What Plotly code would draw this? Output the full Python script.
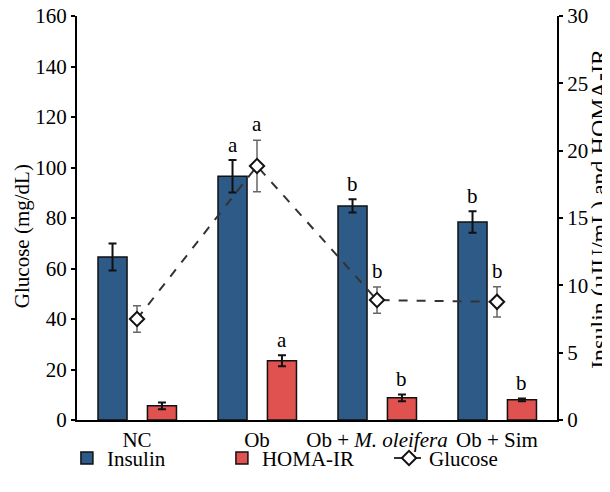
import plotly.graph_objects as go

categories = ["NC", "Ob", "Ob + <i>M. oleifera</i>", "Ob + Sim"]
insulin = [12.1, 18.1, 15.9, 14.7]
insulin_err = [1.0, 1.2, 0.5, 0.8]
homa = [1.05, 4.4, 1.65, 1.5]
homa_err = [0.25, 0.4, 0.25, 0.1]
glucose = [40.0, 100.6, 47.5, 46.8]
glucose_err = [5.2, 10.2, 5.2, 6.0]
insulin_sig = ["", "a", "b", "b"]
homa_sig = ["", "a", "b", "b"]
glucose_sig = ["", "a", "b", "b"]

FONT = "Liberation Serif, Times New Roman, serif"
FS = 21
BLUE = "#2E5A88"
RED = "#E0524F"
BW = 0.242
INS_OFF = -0.325
HOMA_OFF = 0.087

fig = go.Figure()
fig.add_trace(go.Bar(
    x=categories, y=insulin, name="Insulin", yaxis="y", legend="legend",
    width=BW, offset=INS_OFF,
    marker=dict(color=BLUE, line=dict(color="#111111", width=1.5)),
    error_y=dict(type="data", array=insulin_err, color="#111111", thickness=2, width=4),
))
fig.add_trace(go.Bar(
    x=categories, y=homa, name="HOMA-IR", yaxis="y", legend="legend",
    width=BW, offset=HOMA_OFF,
    marker=dict(color=RED, line=dict(color="#111111", width=1.5)),
    error_y=dict(type="data", array=homa_err, color="#111111", thickness=2, width=4),
))
fig.add_trace(go.Scatter(
    x=categories, y=glucose, name="Glucose", yaxis="y2", mode="lines+markers", legend="legend2",
    line=dict(color="#333333", width=2, dash="dash"),
    marker=dict(symbol="diamond", size=11, color="white", line=dict(color="#111111", width=2)),
    error_y=dict(type="data", array=glucose_err, color="#666666", thickness=1.5, width=4),
))

annotations = []
for i in range(len(categories)):
    if insulin_sig[i]:
        annotations.append(dict(x=i + INS_OFF + BW / 2, y=insulin[i] + insulin_err[i], yref="y", xref="x",
                                text=insulin_sig[i], showarrow=False, yanchor="middle", yshift=15))
    if homa_sig[i]:
        annotations.append(dict(x=i + HOMA_OFF + BW / 2, y=homa[i] + homa_err[i], yref="y", xref="x",
                                text=homa_sig[i], showarrow=False, yanchor="middle", yshift=15))
    if glucose_sig[i]:
        annotations.append(dict(x=i, y=glucose[i] + glucose_err[i], yref="y2", xref="x",
                                text=glucose_sig[i], showarrow=False, yanchor="middle", yshift=16))

annotations.append(dict(text="Glucose (mg/dL)", textangle=-90, xref="paper", yref="paper",
                        x=-0.1146, y=0.455, xanchor="center", yanchor="middle", showarrow=False))
annotations.append(dict(text="Insulin (µIU/mL) and HOMA-IR", textangle=-90, xref="paper", yref="paper",
                        x=1.087, y=0.522, xanchor="center", yanchor="middle", showarrow=False,
                        font=dict(size=24)))

axis_common = dict(showline=True, linecolor="black", linewidth=2, showgrid=False, zeroline=False,
                   automargin=False, ticklabeloverflow="allow")

# page body has an 8px default margin, so the figure is sized/offset to compensate
fig.update_layout(
    width=602, height=476,
    margin=dict(l=69, r=53, t=8, b=64, autoexpand=False),
    paper_bgcolor="white", plot_bgcolor="white",
    font=dict(family=FONT, size=FS, color="black"),
    showlegend=True,
    barmode="overlay",
    xaxis=dict(type="category", range=[-0.5, 3.5], ticks="", **axis_common),
    yaxis=dict(side="right", range=[0, 30], dtick=5, ticks="outside", ticklen=4, tickwidth=1.5,
               tickcolor="black", **axis_common),
    yaxis2=dict(side="left", overlaying="y", range=[0, 160], dtick=20, ticks="outside", ticklen=4,
                tickwidth=1.5, tickcolor="black", **axis_common),
    legend=dict(
        orientation="h", x=-0.021, xanchor="left", y=-0.095, yanchor="middle",
        entrywidth=110, entrywidthmode="pixels", bgcolor="rgba(0,0,0,0)", traceorder="normal",
    ),
    legend2=dict(
        orientation="h", x=0.65, xanchor="left", y=-0.095, yanchor="middle",
        bgcolor="rgba(0,0,0,0)",
    ),
    annotations=annotations,
)

fig.write_html("out.html")
